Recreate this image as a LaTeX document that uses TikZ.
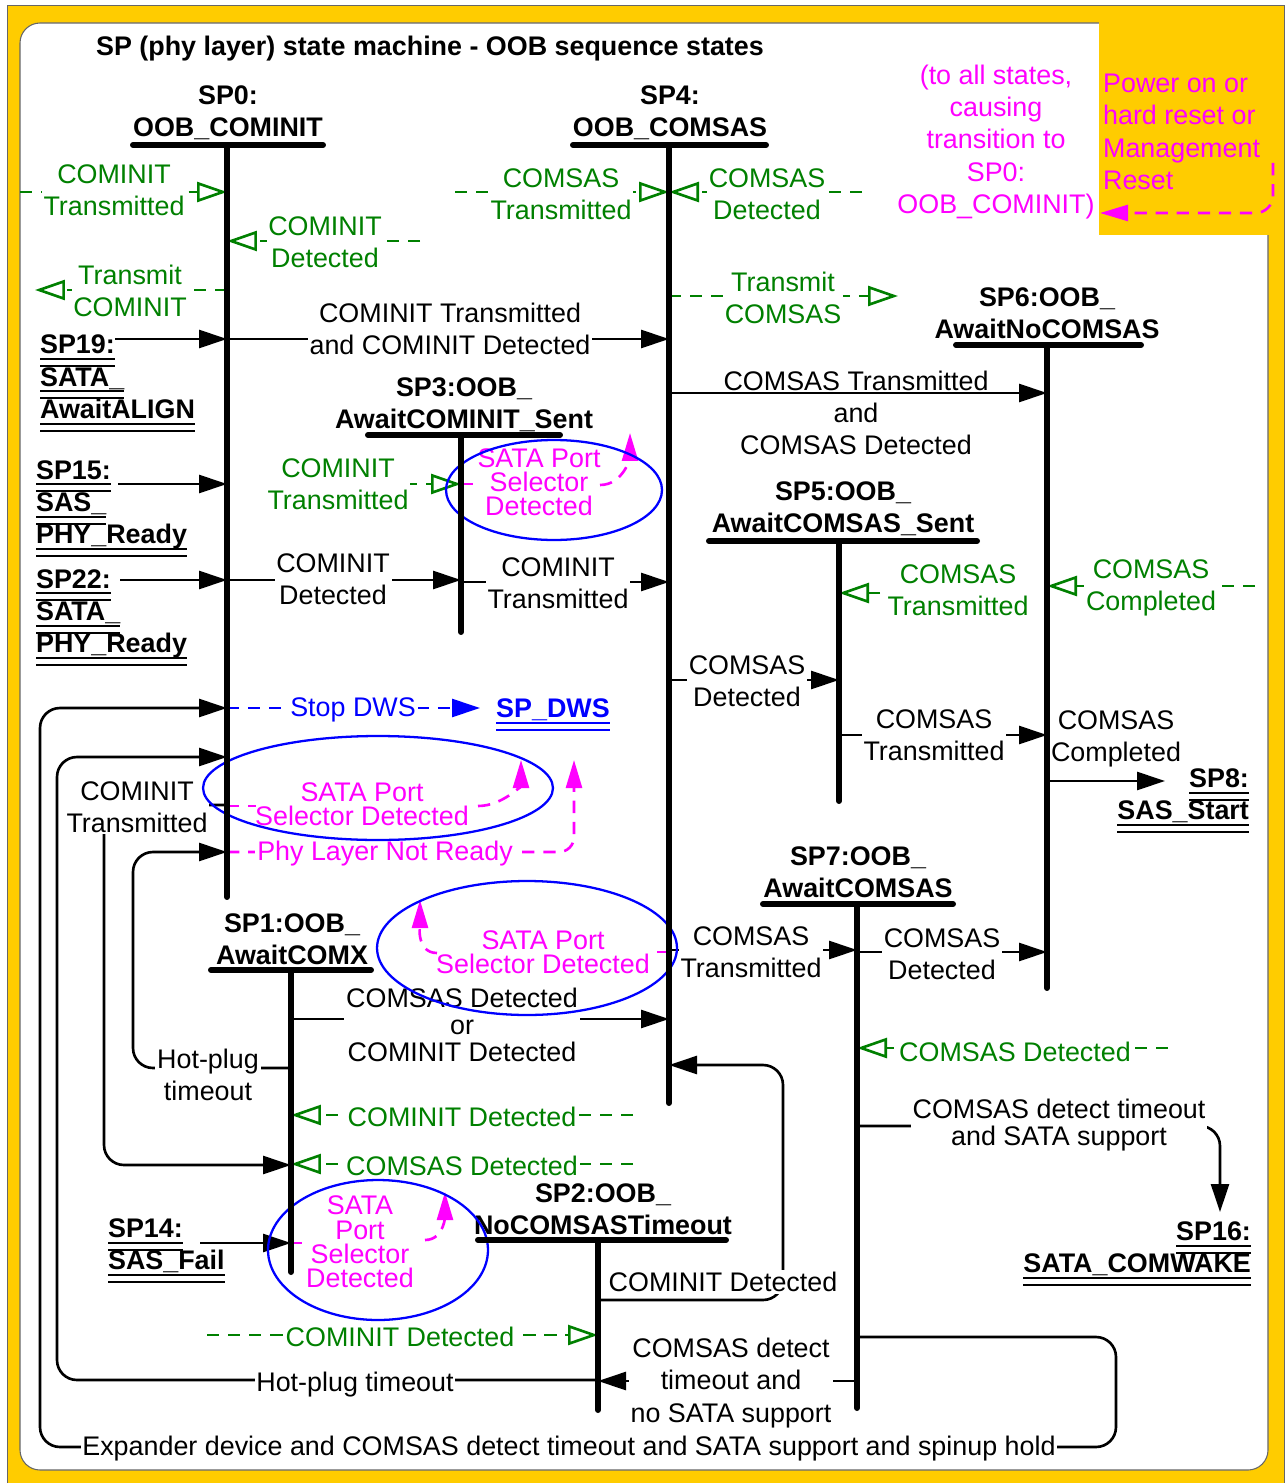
\documentclass[tikz,border=0pt]{standalone}
\usepackage{fontspec}
\setmainfont{Liberation Sans}
\usetikzlibrary{arrows.meta}
\definecolor{sasyellow}{RGB}{255,204,0}
\definecolor{oobgreen}{RGB}{0,128,0}
\definecolor{selmag}{RGB}{255,0,255}
\definecolor{dwsblue}{RGB}{0,0,255}
% double underline for states of other machines
\newcommand{\dul}[1]{\setbox0\hbox{#1}\rlap{\raisebox{-3.4pt}[0pt][0pt]{\rule{\wd0}{1.1pt}}}\rlap{\raisebox{-7.4pt}[0pt][0pt]{\rule{\wd0}{1.1pt}}}\box0}
\tikzset{
  every node/.style={font=\fontsize{15.3}{18.4}\selectfont, inner sep=1pt},
  state/.style={font=\fontsize{15.3}{18.4}\selectfont\bfseries, align=center},
  ext/.style={font=\fontsize{15.3}{18.4}\selectfont\bfseries, align=left},
  bar/.style={line width=3.4pt, line cap=round},
  trans/.style={line width=1.5pt, -{Triangle[length=5.6mm,width=3.6mm]}},
  lbl/.style={fill=white, align=center},
  tight/.style={font=\fontsize{15.3}{15.4}\selectfont},
  oob/.style={oobgreen, line width=1.5pt, dash pattern=on 7pt off 5pt, -{Triangle[open,length=6mm,width=4mm]}},
  glbl/.style={lbl, text=oobgreen},
  sel/.style={selmag, line width=1.5pt, dash pattern=on 7pt off 5pt, -{Triangle[length=5.6mm,width=3.2mm]}},
  mlbl/.style={text=selmag, align=center, font=\fontsize{15.3}{13.8}\selectfont},
  selring/.style={dwsblue, line width=1.3pt},
  dws/.style={dwsblue, line width=1.5pt, dash pattern=on 7pt off 5pt, -{Triangle[length=5.6mm,width=3.6mm]}},
}
\begin{document}
\begin{tikzpicture}[x=0.02cm, y=-0.02cm]
\useasboundingbox (0,0) rectangle (1284,1483);
\fill[white] (0,0) rectangle (1284,1483);
\draw[fill=sasyellow, draw=black!60, line width=0.5pt] (7,5) rectangle (1284,1483);
\draw[fill=white, draw=black!60, line width=0.6pt, rounded corners=0.4cm] (20,23) rectangle (1268,1470);
\fill[sasyellow] (1099,22) rectangle (1280,235);

\node[state] (title) at (430,49) {SP (phy layer) state machine - OOB sequence states};

% states
\node[state] (sp0) at (228,113) {SP0:\\OOB\_COMINIT};
\node[state] (sp4) at (670,113) {SP4:\\OOB\_COMSAS};
\node[state] (sp6) at (1047,313) {SP6:OOB\_\\AwaitNoCOMSAS};
\node[state] (sp3) at (464,405) {SP3:OOB\_\\AwaitCOMINIT\_Sent};
\node[state] (sp5) at (843,509) {SP5:OOB\_\\AwaitCOMSAS\_Sent};
\node[state] (sp7) at (858,872) {SP7:OOB\_\\AwaitCOMSAS};
\node[state] (sp1) at (292,939) {SP1:OOB\_\\AwaitCOMX};
\node[state] (sp2) at (603,1209) {SP2:OOB\_\\NoCOMSASTimeout};
\coordinate (b0) at (227,145);
\coordinate (b4) at (669,145);
\coordinate (b6) at (1047,345);
\coordinate (b3) at (461,435);
\coordinate (b5) at (839,541);
\coordinate (b7) at (857,904);
\coordinate (b1) at (291,970);
\coordinate (b2) at (598,1240);

% other state machines
\node[ext, anchor=west] (sp19) at (38,377) {\dul{SP19:}\\\dul{SATA\_}\\\dul{AwaitALIGN}};
\node[ext, anchor=west] (sp15) at (34,505) {\dul{SP15:}\\\dul{SAS\_}\\\dul{PHY\_Ready}};
\node[ext, anchor=west] (sp22) at (34,614) {\dul{SP22:}\\\dul{SATA\_}\\\dul{PHY\_Ready}};
\node[ext, anchor=west] (sp14) at (106,1246) {\dul{SP14:}\\\dul{SAS\_Fail}};
\node[ext, align=right, anchor=east] (sp8) at (1251,796) {\dul{SP8:}\\\dul{SAS\_Start}};
\node[ext, align=right, anchor=east] (sp16) at (1253,1249) {\dul{SP16:}\\\dul{SATA\_COMWAKE}};
\node[ext, text=dwsblue] (dws) at (553,710) {\dul{SP\_DWS}};

% reset
\draw[sel, rounded corners=0.35cm] (1273,163) |- (1100,213);
\node[mlbl, font=\fontsize{15.3}{18.4}\selectfont, align=left, anchor=west] (pwr) at (1101,132) {Power on or\\hard reset or\\Management\\Reset};
\node[mlbl, font=\fontsize{15.3}{18.4}\selectfont] (toall) at (996,142) {(to all states,\\causing\\transition to\\SP0:\\OOB\_COMINIT)};

% loops
\draw[trans, rounded corners=0.4cm] (b7 |- 0,1337) -- (1116,1337) -- (1116,1447) -- (40,1447) -- (40,708) -- (b0 |- 0,708);
\node[lbl] (expd) at (569,1449) {Expander device and COMSAS detect timeout and SATA support and spinup hold};
\draw[trans, rounded corners=0.4cm] (b2 |- 0,1380) -- (57,1380) -- (57,757) -- (b0 |- 0,757);
\node[lbl] (hpt2) at (355,1385) {Hot-plug timeout};
\draw[trans, rounded corners=0.4cm] (b0 |- 0,805) -- (104,805) -- (104,1165) -- (b1 |- 0,1165);
\node[lbl] (cit1) at (137,807) {COMINIT\\Transmitted};
\draw[trans, rounded corners=0.4cm] (b1 |- 0,1068) -- (133,1068) -- (133,852) -- (b0 |- 0,852);
\node[lbl] (hpt1) at (208,1075) {Hot-plug\\timeout};
\draw[trans, rounded corners=0.4cm] (b2 |- 0,1300) -- (783,1300) -- (783,1065) -- (b4 |- 0,1065);
\node[lbl] (cid2) at (723,1282) {COMINIT Detected};
\draw[trans, rounded corners=0.4cm] (b7 |- 0,1126) -- (1220,1126) -- (1220,1212);
\node[lbl, tight] (cdt) at (1059,1125) {COMSAS detect timeout\\and SATA support};

% straight transitions
\draw[trans] (115,339) -- (b0 |- 0,339);
\draw[trans] (118,484) -- (b0 |- 0,484);
\draw[trans] (120,580) -- (b0 |- 0,580);
\draw[trans] (200,1243) -- (b1 |- 0,1243);
\draw[trans] (b0 |- 0,339) -- (b4 |- 0,339);
\node[lbl] (t04) at (450,329) {COMINIT Transmitted\\and COMINIT Detected};
\draw[trans] (b4 |- 0,393) -- (b6 |- 0,393);
\node[align=center] (t46) at (856,413) {COMSAS Transmitted\\and\\COMSAS Detected};
\draw[trans] (b0 |- 0,580) -- (b3 |- 0,580);
\node[lbl] (t03) at (333,579) {COMINIT\\Detected};
\draw[trans] (b3 |- 0,582) -- (b4 |- 0,582);
\node[lbl] (t34) at (558,583) {COMINIT\\Transmitted};
\draw[trans] (b4 |- 0,680) -- (b5 |- 0,680);
\node[lbl] (t45) at (747,681) {COMSAS\\Detected};
\draw[trans] (b5 |- 0,735) -- (b6 |- 0,735);
\node[lbl] (t56) at (934,735) {COMSAS\\Transmitted};
\draw[trans] (b6 |- 0,781) -- (1165,781);
\node[align=center] (t68) at (1116,739) {COMSAS\\Completed};
\draw[trans] (b1 |- 0,1019) -- (b4 |- 0,1019);
\node[lbl, tight] (t14) at (462,1025) {COMSAS Detected\\or\\COMINIT Detected};
\draw[trans] (b4 |- 0,950) -- (b7 |- 0,950);
\node[lbl] (t47) at (751,952) {COMSAS\\Transmitted};
\draw[trans] (b7 |- 0,952) -- (b6 |- 0,952);
\node[lbl] (t76) at (942,954) {COMSAS\\Detected};
\draw[trans] (b7 |- 0,1381) -- (b2 |- 0,1381);
\node[lbl] (t72) at (731,1383) {COMSAS detect\\timeout and\\no SATA support};

% OOB signals
\draw[oob] (20,192) -- (b0 |- 0,192);
\node[glbl] (g1) at (114,190) {COMINIT\\Transmitted};
\draw[oob] (420,241) -- (b0 |- 0,241);
\node[glbl] (g2) at (325,242) {COMINIT\\Detected};
\draw[oob] (b0 |- 0,290) -- (35,290);
\node[glbl] (g3) at (130,291) {Transmit\\COMINIT};
\draw[oob] (455,192) -- (b4 |- 0,192);
\node[glbl] (g4) at (561,194) {COMSAS\\Transmitted};
\draw[oob] (862,192) -- (b4 |- 0,192);
\node[glbl] (g5) at (767,194) {COMSAS\\Detected};
\draw[oob] (b4 |- 0,296) -- (898,296);
\node[glbl] (g6) at (783,298) {Transmit\\COMSAS};
\draw[oob] (405,484) -- (b3 |- 0,484);
\node[glbl] (g7) at (338,484) {COMINIT\\Transmitted};
\draw[oob] (880,593) -- (b5 |- 0,593);
\node[glbl] (g8) at (958,590) {COMSAS\\Transmitted};
\draw[oob] (1255,586) -- (b6 |- 0,586);
\node[glbl] (g9) at (1151,588) {COMSAS\\Completed};
\draw[oob] (633,1115) -- (b1 |- 0,1115);
\node[glbl] (g10) at (462,1117) {COMINIT Detected};
\draw[oob] (633,1164) -- (b1 |- 0,1164);
\node[glbl] (g11) at (462,1166) {COMSAS Detected};
\draw[oob] (207,1335) -- (b2 |- 0,1335);
\node[glbl] (g12) at (400,1337) {COMINIT Detected};
\draw[oob] (1168,1048) -- (b7 |- 0,1048);
\node[glbl] (g13) at (1015,1052) {COMSAS Detected};

% DWS
\draw[dws] (b0 |- 0,708) -- (480,708);
\node[lbl, text=dwsblue] (stop) at (353,710) {Stop DWS};

% SATA port selector
\draw[sel, rounded corners=0.3cm] (b0 |- 0,852) -- (574,852) -- (574,760);
\node[lbl, text=selmag] (pnr) at (385,854) {Phy Layer Not Ready};
\draw[sel,-] (b3 |- 0,484) -- (476,484);
\draw[sel] (600,485) to[out=0,in=-90] (630,433);
\node[mlbl] (m1) at (539,482) {SATA Port\\Selector\\Detected};
\draw[selring] (554,490) ellipse [x radius=2.16cm, y radius=1cm];
\draw[sel,-] (b0 |- 0,806) -- (256,806);
\draw[sel] (478,806) to[out=0,in=-90] (521,760);
\node[mlbl] (m2) at (362,804) {SATA Port\\Selector Detected};
\draw[selring] (378,788) ellipse [x radius=3.5cm, y radius=1.04cm];
\draw[sel,-] (b4 |- 0,952) -- (656,952);
\draw[sel] (437,953) to[out=180,in=-90] (420,900);
\node[mlbl] (m3) at (543,952) {SATA Port\\Selector Detected};
\draw[selring] (527,948) ellipse [x radius=3cm, y radius=1.34cm];
\draw[sel,-] (b1 |- 0,1243) -- (302,1243);
\draw[sel] (425,1240) to[out=0,in=-90] (445,1192);
\node[mlbl] (m4) at (360,1242) {SATA\\Port\\Selector\\Detected};
\draw[selring] (378,1250) ellipse [x radius=2.2cm, y radius=1.4cm];

% bars
\draw[bar] (133,145) -- (323,145);
\draw[bar] (b0) -- (b0 |- 0,897);
\draw[bar] (573,145) -- (766,145);
\draw[bar] (b4) -- (b4 |- 0,1103);
\draw[bar] (956,345) -- (1141,345);
\draw[bar] (b6) -- (b6 |- 0,988);
\draw[bar] (368,435) -- (560,435);
\draw[bar] (b3) -- (b3 |- 0,632);
\draw[bar] (709,541) -- (977,541);
\draw[bar] (b5) -- (b5 |- 0,801);
\draw[bar] (763,904) -- (953,904);
\draw[bar] (b7) -- (b7 |- 0,1408);
\draw[bar] (211,970) -- (371,970);
\draw[bar] (b1) -- (b1 |- 0,1272);
\draw[bar] (478,1240) -- (726,1240);
\draw[bar] (b2) -- (b2 |- 0,1410);
\end{tikzpicture}
\end{document}
